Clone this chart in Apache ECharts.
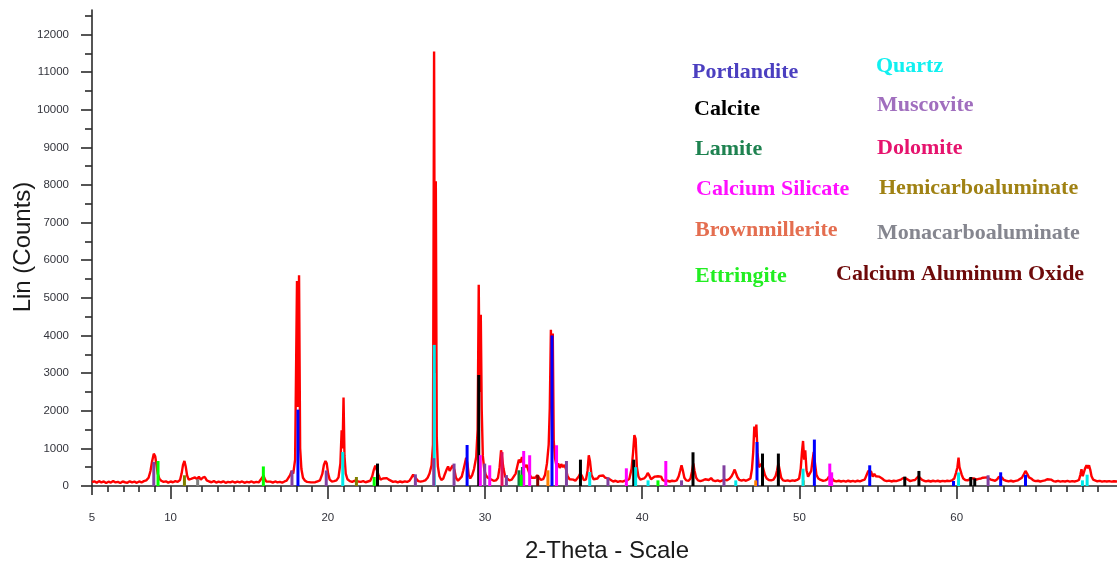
<!DOCTYPE html>
<html>
<head>
<meta charset="utf-8">
<script src="https://cdn.jsdelivr.net/npm/echarts@6/dist/echarts.min.js"></script>
<style>
  html, body { margin: 0; padding: 0; background: #ffffff; }
  #chart { width: 1117px; height: 567px; }
</style>
</head>
<body>
<div id="chart"></div>
<script>
// Measured diffraction pattern, [2-theta (deg), intensity (counts)]
const scan05to20 = [
  [5.0,100],[5.15,125],[5.3,85],[5.45,130],[5.6,95],[5.75,120],[5.9,80],[6.05,115],[6.2,90],[6.35,130],
  [6.5,95],[6.65,110],[6.8,80],[6.95,120],[7.1,100],[7.25,85],[7.4,125],[7.55,95],[7.7,115],[7.85,85],
  [8.0,120],[8.15,95],[8.3,130],[8.45,150],[8.6,220],[8.72,400],[8.82,650],[8.93,860],[9.02,790],[9.1,560],
  [9.18,330],[9.28,200],[9.4,140],[9.55,110],[9.7,125],[9.85,90],[10.0,120],[10.15,100],[10.3,130],[10.45,110],
  [10.6,160],[10.7,330],[10.79,560],[10.88,665],[10.96,520],[11.05,280],[11.15,170],[11.3,190],[11.42,150],[11.55,230],
  [11.68,180],[11.8,250],[11.92,170],[12.05,220],[12.18,240],[12.3,150],[12.45,120],[12.6,100],[12.75,130],[12.9,90],
  [13.05,115],[13.2,95],[13.35,125],[13.5,85],[13.65,110],[13.8,95],[13.95,120],[14.1,90],[14.25,115],[14.4,95],
  [14.55,120],[14.7,85],[14.85,110],[15.0,95],[15.15,120],[15.3,90],[15.45,110],[15.6,95],[15.72,140],[15.82,220],
  [15.9,280],[15.98,200],[16.08,120],[16.2,95],[16.35,115],[16.5,90],[16.65,120],[16.8,95],[16.95,110],[17.1,90],
  [17.25,120],[17.38,140],[17.5,180],[17.6,290],[17.7,400],[17.8,330],[17.92,700],[18.04,5450],[18.1,2100],[18.17,5600],
  [18.24,1000],[18.32,450],[18.42,220],[18.55,140],[18.68,110],[18.8,125],[18.93,95],[19.05,120],[19.2,100],[19.35,125],
  [19.5,150],[19.65,320],[19.75,560],[19.85,665],[19.93,600],[20.02,330],[20.12,170],[20.25,120],[20.4,130]
];
const scan20to35 = [
  [20.55,150],[20.68,230],[20.8,600],[20.88,1480],[20.94,1000],[21.0,2350],[21.06,800],[21.14,330],[21.25,180],[21.4,130],
  [21.55,110],[21.7,140],[21.82,170],[21.95,120],[22.1,110],[22.25,130],[22.4,100],[22.55,120],[22.7,140],[22.82,250],
  [22.92,420],[23.02,540],[23.12,500],[23.22,300],[23.35,170],[23.5,200],[23.62,160],[23.75,210],[23.88,170],[24.0,130],
  [24.15,110],[24.3,125],[24.45,95],[24.6,120],[24.75,100],[24.9,125],[25.05,110],[25.2,140],[25.32,220],[25.43,300],
  [25.53,280],[25.63,190],[25.75,130],[25.9,115],[26.05,130],[26.2,150],[26.35,220],[26.47,330],[26.6,550],[26.69,1100],
  [26.76,11550],[26.81,3000],[26.87,8100],[26.93,1300],[27.0,520],[27.1,260],[27.22,160],[27.35,200],[27.45,320],[27.55,430],
  [27.65,520],[27.75,400],[27.85,480],[27.95,550],[28.05,430],[28.15,220],[28.28,140],[28.4,160],[28.52,250],[28.62,420],
  [28.72,600],[28.8,750],[28.88,600],[28.96,300],[29.06,200],[29.18,280],[29.3,450],[29.44,770],[29.53,1500],[29.6,5350],
  [29.66,2500],[29.73,4550],[29.79,2040],[29.86,800],[29.95,450],[30.04,300],[30.15,230],[30.28,200],[30.4,160],[30.55,140],
  [30.7,150],[30.82,210],[30.93,500],[31.02,950],[31.1,900],[31.18,450],[31.28,250],[31.4,200],[31.55,150],[31.7,170],
  [31.82,200],[31.95,330],[32.05,520],[32.15,700],[32.25,620],[32.35,770],[32.45,600],[32.55,500],[32.65,560],[32.75,420],
  [32.85,300],[32.95,220],[33.07,170],[33.2,220],[33.32,290],[33.44,220],[33.56,160],[33.7,180],[33.82,300],[33.94,600],
  [34.05,1100],[34.12,2080],[34.19,4150],[34.25,2400],[34.31,4050],[34.37,1200],[34.45,750],[34.55,520],[34.65,600],[34.75,480],
  [34.85,580],[34.95,500],[35.05,560],[35.15,450],[35.25,260]
];
const scan35to50 = [
  [35.38,180],[35.5,150],[35.62,170],[35.75,140],[35.87,170],[35.97,260],[36.06,340],[36.16,270],[36.28,160],[36.42,170],
  [36.52,400],[36.6,817],[36.68,650],[36.77,300],[36.9,180],[37.02,150],[37.15,200],[37.28,270],[37.4,230],[37.52,280],
  [37.64,220],[37.76,260],[37.88,190],[38.0,140],[38.15,120],[38.3,140],[38.45,110],[38.6,130],[38.75,115],[38.9,140],
  [39.05,150],[39.18,190],[39.32,450],[39.42,900],[39.5,1350],[39.58,1250],[39.66,500],[39.76,250],[39.88,170],[40.0,160],
  [40.12,200],[40.25,260],[40.35,346],[40.45,280],[40.56,180],[40.68,150],[40.8,250],[40.9,200],[41.0,260],[41.1,220],
  [41.2,250],[41.3,160],[41.45,130],[41.6,140],[41.75,120],[41.9,140],[42.05,130],[42.2,150],[42.32,260],[42.42,420],
  [42.5,550],[42.58,420],[42.68,220],[42.8,150],[42.95,140],[43.07,200],[43.16,380],[43.25,596],[43.33,400],[43.43,220],
  [43.55,150],[43.7,130],[43.85,150],[44.0,180],[44.12,220],[44.25,160],[44.38,210],[44.5,150],[44.65,130],[44.8,150],
  [44.95,125],[45.1,150],[45.25,170],[45.4,150],[45.55,190],[45.67,250],[45.78,340],[45.88,436],[45.96,400],[46.05,240],
  [46.18,160],[46.32,140],[46.45,160],[46.6,140],[46.75,170],[46.88,200],[46.98,450],[47.06,900],[47.13,1580],[47.2,1300],
  [47.26,1633],[47.33,900],[47.42,500],[47.52,450],[47.61,600],[47.7,550],[47.8,300],[47.92,200],[48.05,160],[48.2,150],
  [48.35,170],[48.48,260],[48.58,420],[48.66,596],[48.74,430],[48.84,220],[48.96,150],[49.1,135],[49.25,150],[49.4,130],
  [49.55,150],[49.7,140],[49.85,160]
];
const scan50to70 = [
  [49.98,200],[50.08,450],[50.16,900],[50.23,1197],[50.3,700],[50.37,950],[50.45,420],[50.55,250],[50.65,220],[50.75,400],
  [50.84,700],[50.91,905],[50.99,600],[51.08,300],[51.2,200],[51.35,160],[51.5,140],[51.65,150],[51.78,180],[51.88,250],
  [51.98,260],[52.08,200],[52.2,140],[52.35,125],[52.5,140],[52.65,120],[52.8,135],[52.95,115],[53.1,140],[53.25,120],
  [53.4,135],[53.55,115],[53.7,140],[53.85,125],[54.0,150],[54.15,170],[54.28,300],[54.38,400],[54.47,436],[54.56,380],
  [54.66,250],[54.76,320],[54.86,260],[54.96,300],[55.06,250],[55.16,300],[55.26,200],[55.4,150],[55.55,130],[55.7,145],
  [55.85,120],[56.0,140],[56.15,130],[56.3,150],[56.45,170],[56.58,210],[56.68,250],[56.78,200],[56.9,150],[57.05,130],
  [57.2,150],[57.35,160],[57.47,200],[57.57,260],[57.67,240],[57.78,170],[57.92,140],[58.05,125],[58.2,140],[58.35,120],
  [58.5,140],[58.65,125],[58.8,140],[58.95,120],[59.1,135],[59.25,125],[59.4,140],[59.55,130],[59.7,150],[59.85,200],
  [59.96,350],[60.05,500],[60.12,755],[60.18,500],[60.24,470],[60.32,300],[60.42,200],[60.55,160],[60.7,150],[60.82,180],
  [60.92,200],[61.02,170],[61.12,200],[61.25,170],[61.4,190],[61.55,200],[61.68,220],[61.8,200],[61.92,230],[62.05,200],
  [62.18,170],[62.3,150],[62.45,140],[62.58,180],[62.68,240],[62.78,285],[62.88,230],[63.0,160],[63.15,140],[63.3,125],
  [63.45,140],[63.6,120],[63.75,135],[63.9,150],[64.02,170],[64.15,220],[64.28,320],[64.38,400],[64.48,330],[64.6,230],
  [64.74,200],[64.88,150],[65.02,130],[65.17,140],[65.32,120],[65.47,135],[65.62,150],[65.76,180],[65.88,210],[66.0,170],
  [66.15,130],[66.3,120],[66.45,135],[66.6,115],[66.75,130],[66.9,120],[67.05,135],[67.2,115],[67.35,130],[67.5,120],
  [67.65,135],[67.78,160],[67.87,300],[67.94,444],[68.02,260],[68.1,300],[68.18,480],[68.26,550],[68.34,470],[68.42,550],
  [68.5,430],[68.58,260],[68.68,170],[68.8,140],[68.95,125],[69.1,135],[69.25,115],[69.4,130],[69.55,120],[69.7,130],
  [69.85,115],[70.0,125],[70.2,120]
];

// Reference line positions of each identified phase, [2-theta, height]
const portlandite = [[18.1,2030],[28.86,1090],[34.26,4000],[47.3,1170],[50.95,1234],[54.47,550],[59.8,133],[62.8,364],[64.38,300]];
const calcite = [[23.16,596],[29.6,2950],[36.07,700],[39.46,700],[43.23,896],[47.65,862],[48.66,862],[56.7,250],[57.6,400],[60.9,240],[61.15,200]];
const lamite = [[32.16,418],[32.38,505]];
const calciumSilicate = [[29.7,820],[30.3,550],[32.46,930],[32.84,817],[34.55,1083],[38.99,470],[41.5,665],[51.93,596],[52.05,363]];
const brownmillerite = [[34.0,418],[47.22,150],[50.25,150]];
const ettringite = [[9.2,665],[15.9,520],[22.95,240],[32.3,300],[41.0,150]];
const quartz = [[20.95,905],[26.77,3750],[36.66,372],[39.58,500],[40.37,150],[45.95,150],[50.23,460],[60.12,360],[68.0,150],[68.3,300]];
const muscovite = [[8.93,640],[17.72,413],[19.9,413],[25.57,310],[26.74,740],[28.03,596],[29.98,595],[31.36,290],[35.18,665],[37.82,230],[42.5,150],[45.2,550],[62.0,285]];
const dolomite = [[31.08,900]];
const hemicarboaluminate = [[10.88,285],[21.82,240]];
const monocarboaluminate = [[11.72,180]];
const calciumAluminumOxide = [[33.35,290]];

// Axis ticks
const xLabelValues = [5, 10, 20, 30, 40, 50, 60];
const yLabelValues = [0,1000,2000,3000,4000,5000,6000,7000,8000,9000,10000,11000,12000];

// Phase identification: name, stick colour, label colour, data
const phases = [
  { name: 'Portlandite', stick: '#0000ff', text: '#4b3fc0', data: portlandite },
  { name: 'Calcite', stick: '#000000', text: '#000000', data: calcite },
  { name: 'Lamite', stick: '#0a7a40', text: '#1e8250', data: lamite },
  { name: 'Calcium Silicate', stick: '#ff00ff', text: '#ff10ff', data: calciumSilicate },
  { name: 'Brownmillerite', stick: '#ff8000', text: '#e46e50', data: brownmillerite },
  { name: 'Ettringite', stick: '#00ff00', text: '#22ee22', data: ettringite },
  { name: 'Quartz', stick: '#00e8e8', text: '#10f0f0', data: quartz },
  { name: 'Muscovite', stick: '#8040a0', text: '#a06ebe', data: muscovite },
  { name: 'Dolomite', stick: '#e0105f', text: '#e6146e', data: dolomite },
  { name: 'Hemicarboaluminate', stick: '#808000', text: '#a08214', data: hemicarboaluminate },
  { name: 'Monacarboaluminate', stick: '#808080', text: '#85868f', data: monocarboaluminate },
  { name: 'Calcium Aluminum Oxide', stick: '#800000', text: '#6e0a0a', data: calciumAluminumOxide }
];

// Label placement for the phase key (left x, middle y)
const keyLayout = {
  'Portlandite': [692, 72], 'Calcite': [694, 109], 'Lamite': [695, 149],
  'Calcium Silicate': [696, 189], 'Brownmillerite': [695, 230], 'Ettringite': [695, 276],
  'Quartz': [876, 66], 'Muscovite': [877, 105], 'Dolomite': [877, 148],
  'Hemicarboaluminate': [879, 188], 'Monacarboaluminate': [877, 233], 'Calcium Aluminum Oxide': [836, 274]
};

const pattern = scan05to20.concat(scan20to35, scan35to50, scan50to70);

const xMin = 5, xMax = 70.2, yMax = 12650;
const minorX = [], majorX = [];
for (let v = 6; v <= 69; v++) { (v % 10 === 0 ? majorX : minorX).push(v); }
const minorY = [];
for (let v = 500; v <= 12500; v += 1000) minorY.push(v);

const axisColor = '#2b2b2b';
const tickFont = { fontFamily: 'Liberation Sans, Arial, sans-serif', fontSize: 11.5, color: '#33343c' };
const plainNumber = v => String(Math.round(v));

function xAxisLayer(values, len, withLine, withLabel) {
  return {
    type: 'value', min: xMin, max: xMax, position: 'bottom', gridIndex: 0,
    axisLine: { show: withLine, onZero: false, lineStyle: { color: axisColor, width: 1.6 } },
    axisTick: { show: true, customValues: values, length: len, lineStyle: { color: axisColor, width: 1.6 } },
    axisLabel: withLabel ? Object.assign({ show: true, customValues: xLabelValues, margin: 26, formatter: plainNumber }, tickFont) : { show: false },
    splitLine: { show: false }
  };
}
function yAxisLayer(values, len, withLine, withLabel) {
  return {
    type: 'value', min: 0, max: yMax, position: 'left', gridIndex: 0,
    axisLine: { show: withLine, onZero: false, lineStyle: { color: axisColor, width: 1.6 } },
    axisTick: { show: true, customValues: values, length: len, lineStyle: { color: axisColor, width: 1.6 } },
    axisLabel: withLabel ? Object.assign({ show: true, customValues: yLabelValues, margin: 23, formatter: plainNumber }, tickFont) : { show: false },
    splitLine: { show: false }
  };
}

const stickSeries = phases.map(p => ({
  name: p.name, type: 'bar', data: p.data, barWidth: 3, barGap: '-100%',
  itemStyle: { color: p.stick }, z: 3, silent: true, animation: false
}));

const keyTexts = phases.map(p => ({
  type: 'text', x: keyLayout[p.name][0], y: keyLayout[p.name][1],
  style: { text: p.name, fill: p.text, font: 'bold 22px "Liberation Serif", "Times New Roman", serif', align: 'left', verticalAlign: 'middle' }
}));

const chart = echarts.init(document.getElementById('chart'), null, { renderer: 'canvas' });
chart.setOption({
  animation: false,
  backgroundColor: '#ffffff',
  grid: { left: 92, right: 0, top: 10, bottom: 81, containLabel: false },
  xAxis: [
    xAxisLayer(minorX, 6, true, true),
    xAxisLayer(majorX, 13, false, false),
    xAxisLayer([5], 9, false, false)
  ],
  yAxis: [
    yAxisLayer(minorY, 7, true, true),
    yAxisLayer(yLabelValues, 11, false, false)
  ],
  series: [
    {
      name: 'Scan', type: 'line', data: pattern, showSymbol: false, symbol: 'none',
      lineStyle: { color: '#ff0000', width: 2.4 }, z: 2, silent: true
    }
  ].concat(stickSeries),
  graphic: [
    {
      type: 'text', x: 23, y: 247, rotation: Math.PI / 2,
      style: { text: 'Lin (Counts)', fill: '#1a1a1a', font: '24px "Liberation Sans", Arial, sans-serif', align: 'center', verticalAlign: 'middle' }
    },
    {
      type: 'text', x: 607, y: 551,
      style: { text: '2-Theta - Scale', fill: '#1a1a1a', font: '24px "Liberation Sans", Arial, sans-serif', align: 'center', verticalAlign: 'middle' }
    }
  ].concat(keyTexts)
});
</script>
</body>
</html>
